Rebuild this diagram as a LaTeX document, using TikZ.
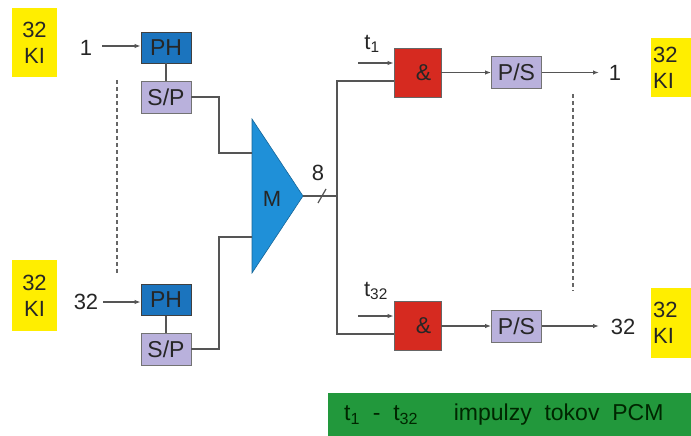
\documentclass[tikz,border=0pt]{standalone}
\usepackage{fontspec}
\setmainfont{Liberation Sans}
\usetikzlibrary{arrows.meta}
\definecolor{kiyellow}{HTML}{FFEE00}
\definecolor{phblue}{HTML}{1B74BE}
\definecolor{mblue}{HTML}{1F90D8}
\definecolor{lav}{HTML}{B9B1DC}
\definecolor{andred}{HTML}{D62A20}
\definecolor{pcmgreen}{HTML}{22983C}
\definecolor{wire}{HTML}{555555}
\tikzset{
  wireline/.style={draw=wire, line width=1.2pt},
  arr/.style={wireline, -{Latex[length=6pt,width=4.5pt]}},
  kibox/.style={fill=kiyellow, draw=none, font=\fontsize{22}{26}\selectfont, align=center, inner sep=0pt, text=black!85},
  phbox/.style={fill=phblue, draw=black!75, line width=0.8pt, minimum width=50pt, minimum height=31pt, inner sep=0pt, font=\fontsize{23}{26}\selectfont, text=black!85},
  spbox/.style={fill=lav, draw=black!55, line width=0.8pt, minimum width=50pt, minimum height=32pt, inner sep=0pt, font=\fontsize{23}{26}\selectfont, text=black!85},
  andbox/.style={fill=andred, draw=black!60, line width=0.8pt, minimum width=47pt, minimum height=49pt, inner sep=0pt, font=\fontsize{23}{26}\selectfont, text=black!85},
  lbl/.style={font=\fontsize{22}{26}\selectfont, inner sep=0pt, text=black!85},
  dashline/.style={draw=wire!90, line width=1.3pt, dash pattern=on 4pt off 3pt},
}
\begin{document}
\begin{tikzpicture}[x=1pt,y=-1pt]
\useasboundingbox (0,0) rectangle (691,436);

% KI boxes
\node[kibox, minimum width=45pt, minimum height=69pt] (kiL1) at (34.5,42.5) {32\\KI};
\node[kibox, minimum width=45pt, minimum height=71pt] (kiL32) at (34.5,295.5) {32\\KI};
\node[kibox, anchor=north west, text width=44pt, align=left, inner xsep=2pt, minimum height=59pt] (kiR1) at (651,38) {32\\KI};
\node[kibox, anchor=north west, text width=44pt, align=left, inner xsep=2pt, minimum height=70pt] (kiR32) at (651,288) {32\\KI};

% input side
\node[lbl] (in1) at (86,48) {1};
\node[lbl] (in32) at (86,302) {32};
\node[phbox] (ph1) at (166,47.5) {PH};
\node[spbox] (sp1) at (166,97) {S/P};
\node[phbox] (ph32) at (166,300) {PH};
\node[spbox] (sp32) at (166,349) {S/P};

\coordinate (a1s) at (102,46);
\coordinate (a32s) at (103,302);
\draw[arr] (a1s) -- (ph1.west |- a1s);
\draw[arr] (a32s) -- (ph32.west |- a32s);
\draw[wireline] (ph1) -- (sp1);
\draw[wireline] (ph32) -- (sp32);

\coordinate (dl1) at (117,80);
\coordinate (dl2) at (117,273);
\draw[dashline] (dl1) -- (dl2);

% multiplexer
\coordinate (mt) at (252,119);
\coordinate (mb) at (252,273);
\coordinate (mtip) at (303,196);
\filldraw[fill=mblue, draw=mblue!70!black, line width=0.6pt] (mt) -- (mtip) -- (mb) -- cycle;
\node[lbl] (mlab) at (272,199) {M};
\coordinate (m1) at (252,153);
\coordinate (m2) at (252,237);
\coordinate (c1) at (219,153);
\coordinate (c2) at (219,237);
\draw[wireline] (sp1.east) -| (c1) -- (m1);
\draw[wireline] (sp32.east) -| (c2) -- (m2);

% bus
\coordinate (bus) at (337,196);
\coordinate (busTop) at (337,81);
\coordinate (busBot) at (337,334);
\draw[wireline] (mtip) -- (bus);
\coordinate (sl1) at (318,203);
\coordinate (sl2) at (326,189);
\draw[wireline] (sl1) -- (sl2);
\node[lbl] (eight) at (318,173) {8};

% output side
\node[andbox] (and1) at (417.5,73) {\hspace{12pt}\&};
\node[andbox] (and32) at (417.5,326) {\hspace{12pt}\&};
\node[spbox] (ps1) at (516.5,72.5) {P/S};
\node[spbox] (ps32) at (516.5,326) {P/S};

\draw[wireline] (and1.west |- busTop) -- (busTop) -- (busBot) -- (and32.west |- busBot);

\coordinate (t1s) at (358,63);
\coordinate (t32s) at (358,316);
\draw[arr] (t1s) -- (and1.west |- t1s);
\draw[arr] (t32s) -- (and32.west |- t32s);
\node[lbl] (t1lab) at (372,44) {t\textsubscript{1}};
\node[lbl] (t32lab) at (376,291) {t\textsubscript{32}};

\draw[arr] (and1.east |- ps1) -- (ps1.west);
\draw[arr] (and32.east) -- (ps32.west);

\node[lbl] (out1) at (615,73) {1};
\node[lbl] (out32) at (623,327) {32};
\coordinate (o1e) at (599,72.5);
\coordinate (o32e) at (599,326);
\draw[arr] (ps1.east) -- (o1e);
\draw[arr] (ps32.east) -- (o32e);

\coordinate (dr1) at (573,94);
\coordinate (dr2) at (573,291);
\draw[dashline] (dr1) -- (dr2);

% legend
\node[fill=pcmgreen, anchor=north west, minimum width=372pt, minimum height=43pt, inner sep=0pt] (legend) at (328,393) {};
\node[lbl, anchor=west, font=\fontsize{23}{28}\selectfont, text=black!85!green] (legtext) at (344,415) {t\textsubscript{1}\ \ -\ \ t\textsubscript{32}\quad\ \ impulzy\ \ tokov\ \ PCM};
\end{tikzpicture}
\end{document}
